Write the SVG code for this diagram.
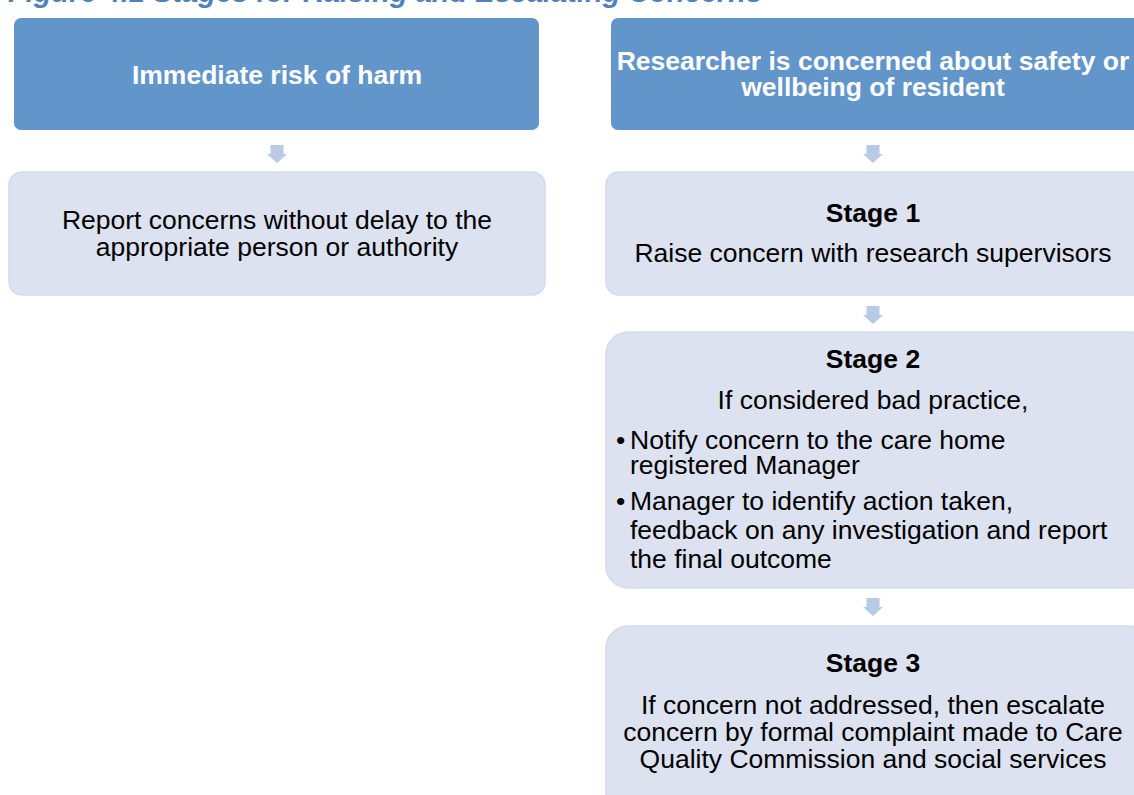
<svg xmlns="http://www.w3.org/2000/svg" width="1134" height="795" viewBox="0 0 1134 795">
<style>
.hdr{fill:#6296CA;}
.body{fill:#DCE2EF;stroke:#D3DBEB;stroke-width:1.5;}
.arr{fill:#B9CAE4;}
.ht{font-family:"Liberation Sans",Arial,sans-serif;font-size:26.5px;font-weight:bold;fill:#FFFFFF;text-anchor:middle;}
.bt{font-family:"Liberation Sans",Arial,sans-serif;font-size:26.5px;fill:#000000;text-anchor:middle;}
.bb{font-family:"Liberation Sans",Arial,sans-serif;font-size:26.5px;font-weight:bold;fill:#000000;text-anchor:middle;}
.bl{font-family:"Liberation Sans",Arial,sans-serif;font-size:26.5px;fill:#000000;}
.title{font-family:"Liberation Sans",Arial,sans-serif;font-size:29px;font-weight:bold;font-style:italic;fill:#4F81BD;}
</style>
<rect width="1134" height="795" fill="#FFFFFF"/>
<text class="title" x="8" y="1.5">Figure 4.1 Stages for Raising and Escalating Concerns</text>

<g id="connectors">
<path class="arr" d="M270.5 145 H283.5 V154 H287 L277 163 L267 154 H270.5 Z"/>
<path class="arr" d="M866.5 145 H879.5 V154 H883 L873 163 L863 154 H866.5 Z"/>
<path class="arr" d="M866.5 306 H879.5 V315 H883 L873 324 L863 315 H866.5 Z"/>
<path class="arr" d="M866.5 598 H879.5 V607 H883 L873 616 L863 607 H866.5 Z"/>
</g>

<g id="immediate-risk">
<rect class="hdr" x="14" y="18" width="525" height="112" rx="7"/>
<text class="ht" x="277" y="84">Immediate risk of harm</text>
</g>

<g id="report-concerns">
<rect class="body" x="9" y="172" width="536" height="123" rx="13"/>
<text class="bt" x="277" y="229">Report concerns without delay to the</text>
<text class="bt" x="277" y="256">appropriate person or authority</text>
</g>

<g id="researcher-concerned">
<rect class="hdr" x="611" y="18" width="540" height="112" rx="7"/>
<text class="ht" x="873" y="70">Researcher is concerned about safety or</text>
<text class="ht" x="873" y="96">wellbeing of resident</text>
</g>

<g id="stage1">
<rect class="body" x="606" y="172" width="545" height="123" rx="13"/>
<text class="bb" x="873" y="222">Stage 1</text>
<text class="bt" x="873" y="262">Raise concern with research supervisors</text>
</g>

<g id="stage2">
<rect class="body" x="606" y="332" width="545" height="256" rx="22"/>
<text class="bb" x="873" y="368">Stage 2</text>
<text class="bt" x="873" y="409">If considered bad practice,</text>
<text class="bl" x="616" y="449">•</text>
<text class="bl" x="630" y="449">Notify concern to the care home</text>
<text class="bl" x="630" y="474">registered Manager</text>
<text class="bl" x="616" y="510">•</text>
<text class="bl" x="630" y="510">Manager to identify action taken,</text>
<text class="bl" x="630" y="539">feedback on any investigation and report</text>
<text class="bl" x="630" y="568">the final outcome</text>
</g>

<g id="stage3">
<rect class="body" x="606" y="626" width="545" height="190" rx="22"/>
<text class="bb" x="873" y="672">Stage 3</text>
<text class="bt" x="873" y="714">If concern not addressed, then escalate</text>
<text class="bt" x="873" y="741">concern by formal complaint made to Care</text>
<text class="bt" x="873" y="768">Quality Commission and social services</text>
</g>
</svg>
